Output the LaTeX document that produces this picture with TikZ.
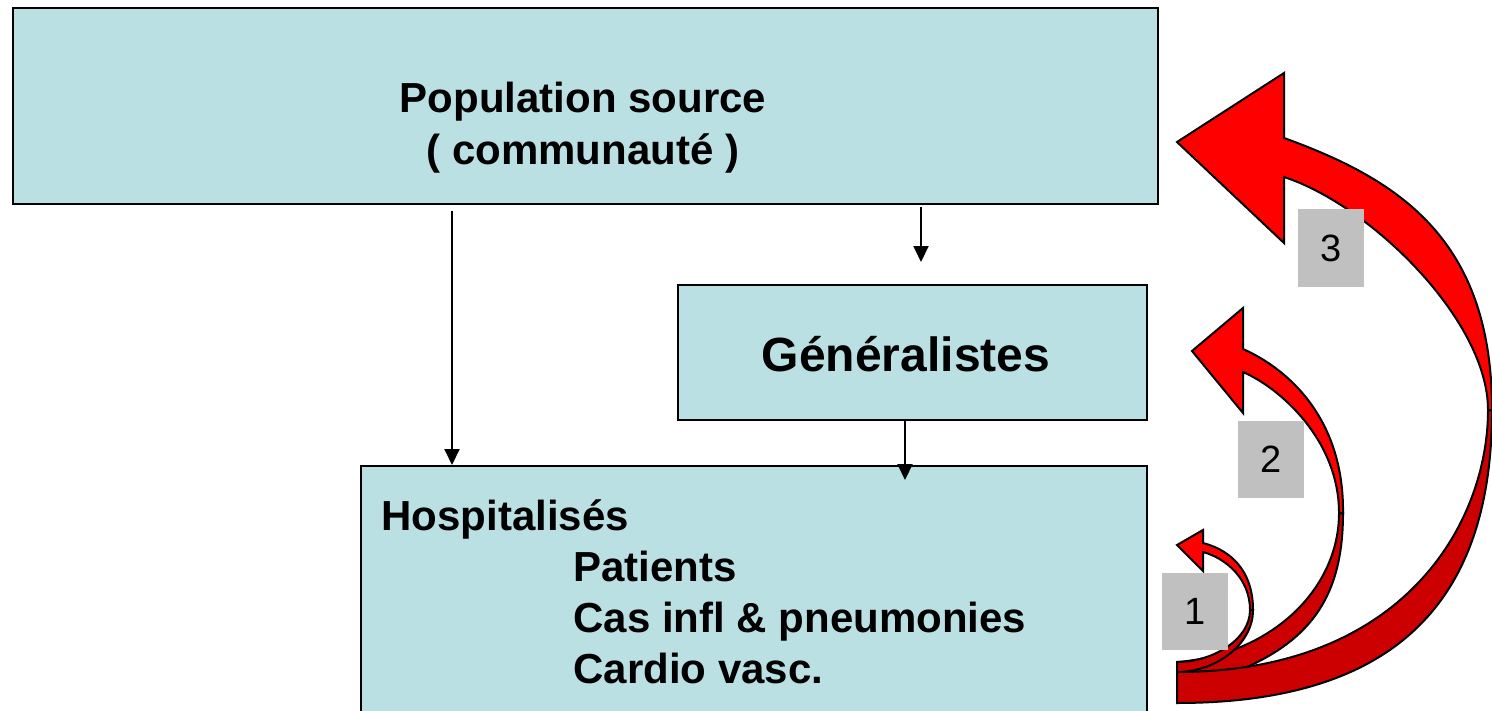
\documentclass[tikz,border=0pt]{standalone}
\usepackage{fontspec}
\setmainfont{Liberation Sans}
\usetikzlibrary{arrows.meta, calc}
\definecolor{boxblue}{RGB}{187,224,227}
\definecolor{lblgray}{RGB}{192,192,192}
\definecolor{frontred}{RGB}{255,0,0}
\definecolor{backred}{RGB}{204,0,0}

\begin{document}
\begin{tikzpicture}[x=0.5pt, y=-0.5pt,
    box/.style={draw=black, line width=1pt, fill=boxblue, inner sep=0pt},
    txt/.style={font=\fontsize{21}{25.5}\selectfont\bfseries, inner sep=0pt},
    link/.style={line width=1pt, -{Triangle[width=7.5pt, length=8pt]}},
    frontface/.style={fill=frontred, draw=black, line width=1pt},
    backface/.style={fill=backred, draw=black, line width=1pt},
    lbl/.style={fill=lblgray, minimum width=33pt, minimum height=38.5pt,
        inner sep=0pt, font=\fontsize{19}{22}\selectfont}]
    \useasboundingbox (0,0) rectangle (1492,711);
    \clip (0,0) rectangle (1492,711);

    % boxes
    \node[box, minimum width=572.5pt, minimum height=98pt] (pop) at (585.5,106) {};
    \node[box, minimum width=234.5pt, minimum height=67.5pt] (gen) at (912.5,352.5) {};
    \node[box, minimum width=393pt, minimum height=147pt] (hosp) at (754,613) {};

    \node[txt, anchor=base] (poptop) at (583,113) {Population source};
    \node[txt, anchor=base] (popbot) at (583,165) {( communauté )};
    \node[txt, font=\fontsize{24}{28}\selectfont\bfseries, anchor=base] (gentxt) at (906,371) {Généralistes};
    \node[txt, anchor=base west] (hosptxt) at (381,530) {Hospitalisés};
    \foreach \item [count=\i] in {Patients, Cas infl \& pneumonies, Cardio vasc.}
        \node[txt, anchor=base west] (item\i) at (573,530+51*\i) {\item};

    % flows
    \coordinate (leftx) at (452,0);
    \coordinate (midx) at (921,0);
    \coordinate (lowx) at (905,0);
    \draw[link] ($(pop.south -| leftx)+(0,6)$) -- (hosp.north -| leftx);
    \draw[link] ($(pop.south -| midx)+(0,2)$) -- ($(gen.north -| midx)+(0,-22)$);
    \draw[link] (gen.south -| lowx) -- ($(hosp.north -| lowx)+(0,15)$);

    % curved arrow 2
    \filldraw[backface] (1343,513) .. controls (1343,610) and (1300,660) .. (1177,690)
        -- (1177,662) .. controls (1270,655) and (1339,590) .. (1339,513) -- cycle;
    \filldraw[frontface] (1343,513) .. controls (1344,420) and (1290,370) .. (1243,349)
        -- (1243,308) -- (1192,351) -- (1243,413) -- (1243,372)
        .. controls (1280,388) and (1339,440) .. (1339,513) -- cycle;
    % curved arrow 3
    \filldraw[backface] (1492,410) .. controls (1492,600) and (1397,703) .. (1177,703)
        -- (1177,672) .. controls (1407,672) and (1488,520) .. (1488,410) -- cycle;
    \filldraw[frontface] (1492,410) .. controls (1492,240) and (1400,180) .. (1284,138)
        -- (1284,73) -- (1177,142) -- (1284,243) -- (1284,177)
        .. controls (1370,205) and (1488,320) .. (1488,410) -- cycle;
    % curved arrow 1
    \filldraw[backface] (1253,610) .. controls (1253,645) and (1215,672) .. (1177,672)
        -- (1177,662) .. controls (1212,662) and (1250,640) .. (1250,610) -- cycle;
    \filldraw[frontface] (1253,610) .. controls (1253,570) and (1230,550) .. (1203,543)
        -- (1203,530) -- (1177,545) -- (1203,571) -- (1203,552)
        .. controls (1225,558) and (1250,578) .. (1250,610) -- cycle;

    \node[lbl] (lbl3) at (1331,248) {3};
    \node[lbl] (lbl2) at (1271,459.5) {2};
    \node[lbl] (lbl1) at (1195,611.5) {1};
\end{tikzpicture}
\end{document}
